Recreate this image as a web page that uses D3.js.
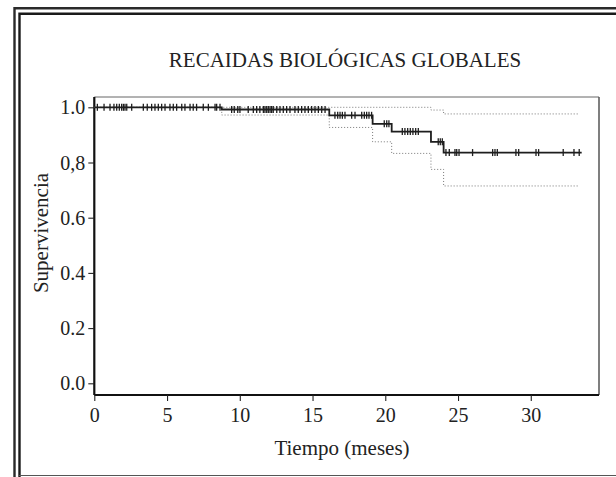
<!DOCTYPE html>
<html><head><meta charset="utf-8">
<script src="https://cdn.jsdelivr.net/npm/d3@7"></script>
<style>html,body{margin:0;padding:0;background:#fff;}svg{display:block;}</style>
</head><body>
<svg id="c" width="616" height="477"></svg>
<script>
// ---- data ----
const title = "RECAIDAS BIOLÓGICAS GLOBALES";
const xLabel = "Tiempo (meses)";
const yLabel = "Supervivencia";
const xTicks = [0, 5, 10, 15, 20, 25, 30];
const yTicks = [0, 0.2, 0.4, 0.6, 0.8, 1.0];
const yTickLabels = ["0.0", "0.2", "0.4", "0.6", "0,8", "1.0"];
const stepTimes = [0, 8.76, 16.15, 19.13, 20.44, 23.14, 24.01];
const survival = [1.0, 0.992, 0.971, 0.940, 0.912, 0.875, 0.836];
const lowerCI = [1.0, 0.972, 0.927, 0.875, 0.833, 0.775, 0.715];
const upperCI = [1.0, 1.0, 1.0, 1.0, 1.0, 0.99, 0.976];
const survEnd = 33.5;
const ciEnd = 33.3;
const censorTimes = [0.21,0.67,1.08,1.35,1.54,1.72,1.88,2.0,2.11,2.23,2.57,3.37,3.64,3.94,4.17,4.40,4.63,4.86,5.20,5.43,5.66,6.01,6.23,6.58,6.80,7.03,7.49,7.84,8.30,8.41,8.64,
9.44,9.62,9.86,10.01,10.58,10.93,11.16,11.38,11.62,11.73,11.85,11.96,12.08,12.19,12.30,12.54,12.76,12.99,13.22,13.45,13.79,14.02,14.25,14.48,14.71,14.94,15.17,15.40,15.63,15.86,
16.54,16.73,16.89,17.05,17.23,17.69,17.92,18.38,18.56,18.72,18.88,19.06,
19.93,20.10,20.25,
21.17,21.35,21.54,21.72,21.90,22.09,22.27,
23.64,23.78,23.92,
24.17,24.40,24.79,24.91,25.07,26.0,27.38,27.54,27.70,28.98,29.17,30.36,30.54,32.23,32.97,33.33];

// ---- layout ----
const svg = d3.select("#c");
const L = 94.3, R = 599, T = 97, B = 395;
const x = d3.scaleLinear().domain([0, 34.69]).range([L, R]);
const y = d3.scaleLinear().domain([0, 1]).range([383.3, 107.3]);
const serif = "'Liberation Serif','Times New Roman',serif";

// outer double frame
svg.append("path").attr("d", `M14.5,477 L14.5,8.3 L616,8.3`).attr("fill","none").attr("stroke","#2a2a2a").attr("stroke-width",2.4);
svg.append("path").attr("d", `M19.5,477 L19.5,13.8 L616,13.8`).attr("fill","none").attr("stroke","#1a1a1a").attr("stroke-width",2.4);
svg.append("line").attr("x1",19).attr("x2",616).attr("y1",475.5).attr("y2",475.5).attr("stroke","#555").attr("stroke-width",1.2);

// title
svg.append("text").attr("x", 345).attr("y", 67).attr("text-anchor","middle")
  .attr("font-family", serif).attr("font-size", 21).attr("fill","#222").text(title);

// plot box
svg.append("line").attr("x1",L).attr("x2",R).attr("y1",T).attr("y2",T).attr("stroke","#666").attr("stroke-width",1);
svg.append("line").attr("x1",R).attr("x2",R).attr("y1",T).attr("y2",B).attr("stroke","#555").attr("stroke-width",1.5);

// axes
const yAxis = d3.axisLeft(y).tickValues(yTicks).tickSize(6).tickPadding(3)
  .tickFormat((d,i) => yTickLabels[i]);
const gy = svg.append("g").attr("transform", `translate(${L},0)`).call(yAxis);
gy.select(".domain").attr("d", `M0,${T}V${B}`).attr("stroke","#111").attr("stroke-width",2.2);
gy.selectAll(".tick line").attr("stroke","#222").attr("stroke-width",1.1);
gy.selectAll(".tick text").attr("font-family", serif).attr("font-size", 20).attr("fill","#222").attr("dy","0.33em");

const xAxis = d3.axisBottom(x).tickValues(xTicks).tickSize(6).tickPadding(7).tickFormat(d3.format("d"));
const gx = svg.append("g").attr("transform", `translate(0,${B})`).call(xAxis);
gx.select(".domain").attr("d", `M${L},0H${R}`).attr("stroke","#111").attr("stroke-width",2.2);
gx.selectAll(".tick line").attr("stroke","#222").attr("stroke-width",1.1);
gx.selectAll(".tick text").attr("font-family", serif).attr("font-size", 20).attr("fill","#222");

// axis labels
svg.append("text").attr("x", 342).attr("y", 455).attr("text-anchor","middle")
  .attr("font-family", serif).attr("font-size", 21).attr("fill","#222").text(xLabel);
svg.append("text").attr("transform","translate(48,233) rotate(-90)").attr("text-anchor","middle")
  .attr("font-family", serif).attr("font-size", 21).attr("fill","#222").text(yLabel);

// step curves
function stepPts(vals, end) {
  const pts = stepTimes.map((t,i) => [t, vals[i]]);
  pts.push([end, vals[vals.length-1]]);
  return pts;
}
const stepLine = d3.line().x(d => x(d[0])).y(d => y(d[1])).curve(d3.curveStepAfter);

[upperCI, lowerCI].forEach(v => {
  svg.append("path").attr("d", stepLine(stepPts(v, ciEnd))).attr("fill","none")
    .attr("stroke","#777").attr("stroke-width",1).attr("stroke-dasharray","1,2");
});
svg.append("path").attr("d", stepLine(stepPts(survival, survEnd))).attr("fill","none")
  .attr("stroke","#1e1e1e").attr("stroke-width",1.8);

// censor marks
const survAt = t => { let s = survival[0]; stepTimes.forEach((st,i) => { if (t >= st) s = survival[i]; }); return s; };
svg.append("g").selectAll("line").data(censorTimes).join("line")
  .attr("x1", d => x(d)).attr("x2", d => x(d))
  .attr("y1", d => y(survAt(d)) - 3.5).attr("y2", d => y(survAt(d)) + 3.5)
  .attr("stroke","#1e1e1e").attr("stroke-width",1.3);
</script>
</body></html>
